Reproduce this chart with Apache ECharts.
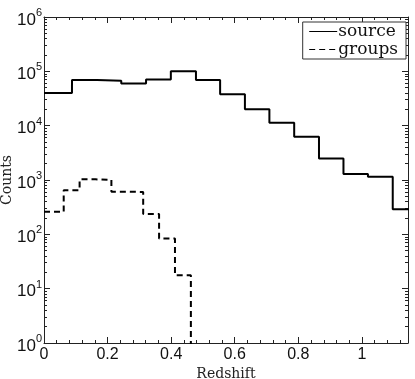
<!DOCTYPE html>
<html>
<head>
<meta charset="utf-8">
<script src="https://cdn.jsdelivr.net/npm/echarts@6/dist/echarts.min.js"></script>
<style>
  html, body { margin: 0; padding: 0; background: #fff; }
  #chart { width: 415px; height: 379px; }
</style>
</head>
<body>
<div id="chart"></div>
<script>
// 直方图数据: 每个 bin 的左边界和计数
var sourceEdges = [0, 0.088, 0.167, 0.243, 0.321, 0.399, 0.478, 0.554, 0.632, 0.709, 0.787, 0.865, 0.942, 1.019, 1.097];
var sourceCounts = [40000, 69000, 67000, 60000, 71000, 100000, 69000, 37700, 20000, 11300, 6250, 2500, 1285, 1150, 291];
var sourceEnd = 1.16;   // 最后一个 bin 超出坐标轴
var groupEdges = [0, 0.062, 0.112, 0.162, 0.212, 0.262, 0.312, 0.362, 0.412];
var groupCounts = [260, 650, 1030, 1000, 610, 600, 236, 84, 17.7];
var groupEnd = 0.462;   // 之后计数为 0, 线落到轴下
// 刻度
var xTicks = [0, 0.2, 0.4, 0.6, 0.8, 1];
var xLabels = ["0", "0.2", "0.4", "0.6", "0.8", "1"];
var yTicks = [1, 10, 100, 1000, 10000, 100000, 1000000];
var yExp = ["0", "1", "2", "3", "4", "5", "6"];

var xMax = 1.145;
var xMinor = [];
for (var k = 0; k * 0.04 < xMax; k++) xMinor.push(+(k * 0.04).toFixed(2));
var yMinor = [];
for (var d = 0; d < 6; d++) {
  for (var m = 2; m <= 9; m++) yMinor.push(m * Math.pow(10, d));
}

function stepData (edges, counts, endX, endY) {
  var out = edges.map(function (e, i) { return [e, counts[i]]; });
  out.push([endX, endY]);
  return out;
}

var axisColor = "#222";

function xAx (pos, ticks, len, labels, showLine) {
  return {
    type: "value", position: pos, min: 0, max: xMax, interval: 0.2,
    axisLine: { show: showLine, onZero: false, lineStyle: { color: axisColor, width: 1 } },
    axisTick: { show: true, inside: true, length: len, customValues: ticks, lineStyle: { color: axisColor } },
    axisLabel: labels ? {
      show: true, customValues: xTicks, margin: 4,
      color: "#111", fontFamily: "Liberation Sans", fontSize: 16,
      formatter: function (v) {
        var i = xTicks.indexOf(+v.toFixed(2));
        return i >= 0 ? xLabels[i] : "";
      }
    } : { show: false },
    splitLine: { show: false }
  };
}

function yAx (pos, ticks, len, labels, showLine) {
  return {
    type: "log", logBase: 10, position: pos, min: 1, max: 1000000,
    axisLine: { show: showLine, onZero: false, lineStyle: { color: axisColor, width: 1 } },
    axisTick: { show: true, inside: true, length: len, customValues: ticks, lineStyle: { color: axisColor } },
    axisLabel: labels ? {
      show: true, customValues: yTicks, margin: 2,
      formatter: function (v) {
        var i = Math.round(Math.log10(v));
        return "{b|10}{s|" + yExp[i] + "}";
      },
      rich: {
        b: { fontFamily: "Liberation Sans", fontSize: 17, color: "#111", padding: [6, 0, 0, 0] },
        s: { fontFamily: "Liberation Sans", fontSize: 11, color: "#111", padding: [0, 0, 8, 0] }
      }
    } : { show: false },
    splitLine: { show: false }
  };
}

var myChart = echarts.init(document.getElementById("chart"));
var option = {
  animation: false,
  backgroundColor: "#fff",
  grid: { left: 44, right: 7, top: 17, bottom: 36, containLabel: false, outerBoundsMode: "none" },
  legend: {
    orient: "vertical",
    right: 9, top: 22,
    itemWidth: 28, itemHeight: 14, itemGap: 1,
    padding: [1, 8, 1, 6],
    borderColor: "#333", borderWidth: 1, borderRadius: 0,
    backgroundColor: "#fff",
    lineStyle: { width: 1 },
    itemStyle: { opacity: 0 },
    textStyle: { fontFamily: "DejaVu Serif", fontSize: 17, color: "#111", padding: [0, 0, 0, -4] },
    data: ["source", "groups"]
  },
  xAxis: [
    Object.assign(xAx("bottom", xTicks, 6, true, true), {
      name: "Redshift", nameLocation: "middle", nameGap: 24, nameMoveOverlap: false,
      nameTextStyle: { fontFamily: "DejaVu Serif", fontSize: 14, color: "#222" }
    }),
    xAx("bottom", xMinor, 3, false, false),
    xAx("top", xTicks, 6, false, true),
    xAx("top", xMinor, 3, false, false)
  ],
  yAxis: [
    Object.assign(yAx("left", yTicks, 6, true, true), {
      name: "Counts", nameLocation: "middle", nameGap: 30, nameMoveOverlap: false,
      nameTextStyle: { fontFamily: "DejaVu Serif", fontSize: 14, color: "#222" }
    }),
    yAx("left", yMinor, 3, false, false),
    yAx("right", yTicks, 6, false, true),
    yAx("right", yMinor, 3, false, false)
  ],
  series: [
    {
      name: "source", type: "line", step: "end",
      xAxisIndex: 0, yAxisIndex: 0,
      symbol: "none", clip: true,
      lineStyle: { color: "#000", width: 2 },
      itemStyle: { color: "#000" },
      data: stepData(sourceEdges, sourceCounts, sourceEnd, sourceCounts[sourceCounts.length - 1])
    },
    {
      name: "groups", type: "line", step: "end",
      xAxisIndex: 0, yAxisIndex: 0,
      symbol: "none", clip: true,
      lineStyle: { color: "#000", width: 2, type: [6, 4] },
      itemStyle: { color: "#000" },
      data: stepData(groupEdges, groupCounts, groupEnd, 0.01)
    }
  ]
};
myChart.setOption(option);
window.addEventListener("resize", function () {
  myChart.resize();
});
</script>
</body>
</html>
